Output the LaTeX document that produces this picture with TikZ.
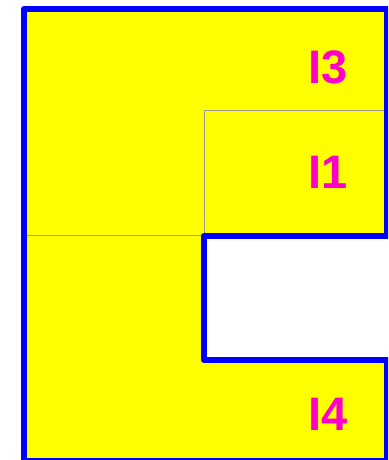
\documentclass[tikz,border=0pt]{standalone}
\usepackage{fontspec}
\setmainfont{Liberation Sans}
\definecolor{fillyel}{HTML}{FFFF00}
\definecolor{bordblue}{HTML}{0000FF}
\definecolor{labmag}{HTML}{FF00CC}
\definecolor{divgray}{HTML}{999999}
\begin{document}
\begin{tikzpicture}[x=1pt,y=-1pt,
  region/.style={fill=fillyel},
  border/.style={draw=bordblue,line width=6pt,line join=round},
  divline/.style={draw=divgray,line width=0.8pt},
  lab/.style={text=labmag,font=\fontsize{47}{47}\selectfont\bfseries,inner sep=0pt,anchor=center}]
\useasboundingbox (0,0) rectangle (388,460);
\begin{scope}
\clip (0,0) rectangle (388,460);
\fill[region] (24,9) -- (387,9) -- (387,236) -- (204,236) -- (204,360) -- (387,360) -- (387,461) -- (24,461) -- cycle;
\draw[divline] (204,236) -- (204,110.5) -- (387,110.5);
\draw[divline] (24,235.5) -- (204,235.5);
\draw[border] (24,461) -- (24,9) -- (387,9) -- (387,236) -- (204,236) -- (204,360) -- (387,360) -- (387,461) -- cycle;
\end{scope}
\node[lab] (i3) at (328,67) {I3};
\node[lab] (i1) at (328,172) {I1};
\node[lab] (i4) at (328.5,414) {I4};
\end{tikzpicture}
\end{document}
